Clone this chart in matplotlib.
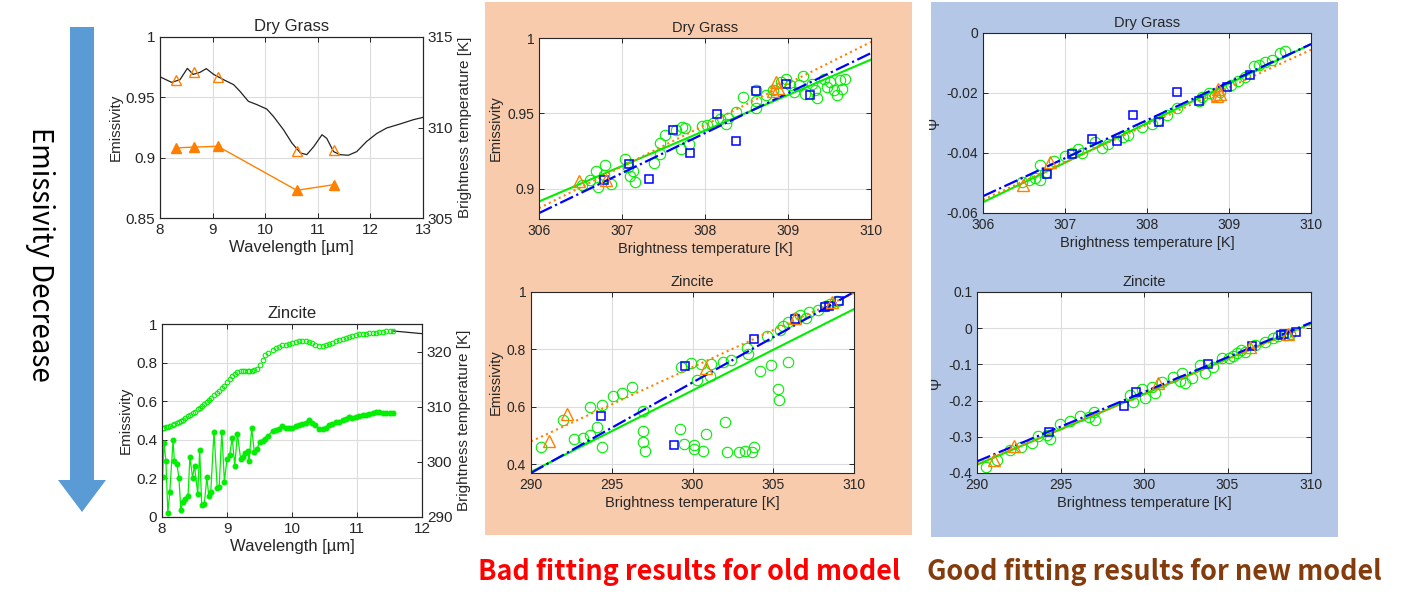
"""Emissivity / brightness-temperature fitting comparison figure."""
import matplotlib
matplotlib.use('Agg')
import matplotlib.pyplot as plt
from matplotlib.patches import Rectangle, Polygon
from matplotlib.ticker import FuncFormatter

plt.rcParams.update({
    'font.family': ['Liberation Sans', 'DejaVu Sans'],
    'axes.unicode_minus': False,
})

# ---------------------------------------------------------------------------
# data
# ---------------------------------------------------------------------------
# Dry grass spectrum (left top)
grass_wl = [8.0, 8.22, 8.38, 8.52, 8.63, 8.76, 8.88, 9.02, 9.21, 9.40, 9.52, 9.68,
            9.84, 10.03, 10.16, 10.35, 10.51, 10.67, 10.79, 10.92, 11.08, 11.17,
            11.30, 11.42, 11.58, 11.74, 11.93, 12.12, 12.31, 12.57, 12.82, 13.0]
grass_emis = [0.967, 0.9624, 0.9646, 0.974, 0.969, 0.9707, 0.9738, 0.969, 0.9646,
              0.9605, 0.955, 0.9467, 0.944, 0.9403, 0.934, 0.923, 0.912, 0.9039,
              0.9025, 0.909, 0.919, 0.916, 0.905, 0.9025, 0.902, 0.905, 0.9135,
              0.920, 0.9246, 0.928, 0.9315, 0.9334]
band_wl = [8.30, 8.65, 9.10, 10.60, 11.30]
band_emis = [0.9646, 0.9707, 0.9669, 0.9058, 0.9066]
band_bt = [308.87, 308.92, 308.96, 306.53, 306.84]

# Zincite spectrum (left bottom)
zinc_wl = [8.01, 8.03, 8.06, 8.09, 8.12, 8.17, 8.19, 8.23, 8.26, 8.29,
           8.32, 8.36, 8.40, 8.43, 8.47, 8.50, 8.55, 8.58, 8.61, 8.65,
           8.69, 8.72, 8.75, 8.80, 8.85, 8.88, 8.92, 8.96, 9.00, 9.04,
           9.08, 9.12, 9.16, 9.21, 9.25, 9.28, 9.32, 9.34, 9.38, 9.42,
           9.46, 9.50, 9.55, 9.59, 9.63, 9.70, 9.75, 9.80, 9.85, 9.90,
           9.95, 10.00, 10.06, 10.11, 10.16, 10.21, 10.26, 10.31, 10.36, 10.42,
           10.47, 10.52, 10.57, 10.62, 10.67, 10.72, 10.78, 10.83, 10.88, 10.93,
           10.98, 11.03, 11.09, 11.14, 11.19, 11.24, 11.29, 11.34, 11.40, 11.45,
           11.50, 11.55]
zinc_emis = [0.460, 0.462, 0.465, 0.468, 0.471, 0.477, 0.481, 0.486, 0.492, 0.497,
             0.503, 0.511, 0.521, 0.528, 0.538, 0.546, 0.559, 0.567, 0.577, 0.586,
             0.597, 0.605, 0.616, 0.632, 0.645, 0.655, 0.667, 0.679, 0.699, 0.715,
             0.728, 0.741, 0.750, 0.754, 0.755, 0.756, 0.757, 0.757, 0.758, 0.760,
             0.768, 0.790, 0.815, 0.839, 0.849, 0.864, 0.874, 0.882, 0.890, 0.893,
             0.895, 0.899, 0.905, 0.912, 0.913, 0.912, 0.906, 0.899, 0.892, 0.887,
             0.886, 0.891, 0.897, 0.904, 0.911, 0.918, 0.924, 0.930, 0.935, 0.940,
             0.943, 0.947, 0.949, 0.950, 0.951, 0.953, 0.955, 0.958, 0.961, 0.962,
             0.963, 0.964]
zinc_bt = [297.2, 303.4, 300.2, 290.8, 294.5, 303.9, 300.2, 299.6, 297.1, 291.3,
           292.7, 293.2, 293.8, 300.9, 297.1, 299.3, 294.2, 302.2, 292.2, 292.3,
           297.2, 293.8, 294.5, 305.5, 295.2, 295.5, 305.5, 296.4, 300.5, 301.2,
           304.3, 299.3, 305.1, 300.5, 300.9, 301.6, 302.0, 300.1, 306.1, 301.8,
           302.3, 303.6, 303.7, 304.1, 304.7, 305.6, 305.7, 305.9, 306.5, 306.2,
           306.2, 306.1, 306.5, 306.7, 306.9, 307.0, 307.5, 307.1, 306.7, 305.9,
           305.9, 306.2, 306.6, 306.9, 307.2, 307.3, 307.5, 307.7, 308.2, 308.0,
           308.2, 308.3, 308.5, 308.5, 308.6, 308.9, 309.1, 309.0, 308.9, 308.9,
           308.8, 308.9]
zinc_tail_wl = [11.55, 12.0]
zinc_tail_emis = [0.964, 0.950]

# Old model, dry grass (emissivity vs BT)
mg_circ_t = [306.52, 306.61, 306.69, 306.71, 306.79, 306.78, 306.87, 307.04, 307.07, 307.10,
             307.16, 307.13, 307.38, 307.46, 307.52, 307.46, 307.65, 307.72, 307.76, 307.71,
             307.81, 307.96, 308.02, 308.10, 308.18, 308.25, 308.28, 308.37, 308.46, 308.62,
             308.62, 308.62, 308.74, 308.82, 308.92, 308.98, 309.02, 309.07, 309.13, 309.18,
             309.21, 309.29, 309.33, 309.35, 309.43, 309.47, 309.51, 309.55, 309.59, 309.63,
             309.65, 309.69]
mg_circ_e = [0.9024, 0.906, 0.912, 0.9015, 0.9156, 0.909, 0.903, 0.920, 0.9148, 0.9082,
             0.9044, 0.912, 0.9174, 0.9306, 0.9357, 0.9231, 0.939, 0.9407, 0.9403, 0.9262,
             0.9297, 0.9416, 0.9423, 0.9438, 0.946, 0.9427, 0.9467, 0.9511, 0.961, 0.9654,
             0.9584, 0.9533, 0.9621, 0.9654, 0.9709, 0.9731, 0.9687, 0.9643, 0.9687, 0.9747,
             0.9632, 0.9698, 0.9654, 0.9599, 0.9731, 0.9676, 0.9709, 0.9654, 0.9621, 0.972,
             0.9665, 0.9725]
mg_sq_t = [306.78, 307.08, 307.33, 307.62, 307.82, 308.14, 308.37, 308.62, 308.98, 309.26]
mg_sq_e = [0.906, 0.9165, 0.9066, 0.939, 0.924, 0.9496, 0.932, 0.965, 0.9698, 0.9621]
mg_tri_t = [306.48, 306.81, 308.82, 308.86, 308.88]
mg_tri_e = [0.905, 0.906, 0.965, 0.971, 0.967]
mg_fit_t = [306, 310]
mg_fit_green = [0.8916, 0.9857]
mg_fit_orange = [0.8872, 0.9974]
mg_fit_blue = [0.8839, 0.990]

# Old model, zincite
mz_circ_t = [290.60, 292.00, 292.68, 293.24, 293.65, 293.65, 294.11, 294.38, 294.38, 295.10,
             295.61, 296.23, 296.91, 296.91, 296.96, 297.06, 299.23, 299.29, 299.47, 299.89,
             300.09, 300.09, 300.30, 300.51, 300.63, 300.81, 301.08, 301.15, 301.87, 302.01,
             302.12, 302.36, 302.90, 303.25, 303.35, 303.46, 303.66, 303.81, 304.18, 304.63,
             304.84, 305.27, 305.36, 305.42, 305.62, 305.93, 305.93, 306.35, 306.66, 307.03,
             307.23, 307.79, 308.20, 308.51, 308.93]
mz_circ_e = [0.460, 0.556, 0.489, 0.492, 0.598, 0.501, 0.530, 0.608, 0.460, 0.637,
             0.647, 0.670, 0.586, 0.516, 0.478, 0.446, 0.524, 0.740, 0.472, 0.752,
             0.468, 0.454, 0.693, 0.748, 0.448, 0.507, 0.707, 0.750, 0.757, 0.548,
             0.443, 0.763, 0.443, 0.448, 0.806, 0.783, 0.443, 0.460, 0.725, 0.847,
             0.746, 0.661, 0.623, 0.868, 0.880, 0.757, 0.897, 0.911, 0.921, 0.911,
             0.929, 0.938, 0.950, 0.958, 0.970]
mz_sq_t = [294.35, 298.85, 299.55, 303.82, 306.35, 308.20, 308.45, 309.08]
mz_sq_e = [0.569, 0.466, 0.743, 0.837, 0.906, 0.948, 0.952, 0.967]
mz_tri_t = [291.10, 292.25, 300.81, 306.35, 308.62]
mz_tri_e = [0.483, 0.574, 0.737, 0.911, 0.965]
mz_fit_t = [290, 310]
mz_fit_green = [0.374, 0.9405]
mz_fit_orange = [0.480, 0.9965]
mz_fit_blue = [0.370, 1.0]

# New model, dry grass (psi vs BT)
rg_circ_t = [306.48, 306.56, 306.64, 306.70, 306.70, 306.76, 306.86, 307.00, 307.08, 307.16,
             307.21, 307.37, 307.45, 307.53, 307.71, 307.77, 307.94, 308.06, 308.14, 308.24,
             308.36, 308.63, 308.67, 308.75, 308.83, 308.89, 309.03, 309.11, 309.20, 309.30,
             309.36, 309.44, 309.52, 309.62, 309.68]
rg_circ_p = [-0.0498, -0.0489, -0.0483, -0.0441, -0.0489, -0.0467, -0.0428, -0.0409, -0.0400,
             -0.0387, -0.0400, -0.0363, -0.0383, -0.0369, -0.0347, -0.0339, -0.0313, -0.0302,
             -0.0289, -0.0272, -0.0250, -0.0226, -0.0213, -0.0200, -0.0211, -0.0198, -0.0172,
             -0.0161, -0.0147, -0.0111, -0.0106, -0.0098, -0.0089, -0.0067, -0.0059]
rg_sq_t = [306.78, 307.08, 307.33, 307.63, 307.83, 308.15, 308.37, 308.64, 308.98, 309.26]
rg_sq_p = [-0.0469, -0.0403, -0.0352, -0.0361, -0.0274, -0.0297, -0.0198, -0.0228, -0.0180, -0.0139]
rg_tri_t = [306.49, 306.82, 308.85, 308.87, 308.89]
rg_tri_p = [-0.0506, -0.0431, -0.0211, -0.0187, -0.0202]
rg_fit_t = [306, 310]
rg_fit_green = [-0.0564, -0.0037]
rg_fit_orange = [-0.0556, -0.0056]
rg_fit_blue = [-0.0544, -0.0037]

# New model, zincite
rz_circ_t = [290.56, 291.20, 292.00, 292.65, 293.29, 293.65, 294.19, 294.39, 294.99, 295.58,
             296.18, 296.68, 296.98, 297.04, 299.17, 299.37, 299.87, 300.07, 300.47, 300.67,
             301.07, 301.76, 302.16, 302.26, 302.46, 302.86, 303.36, 303.66, 304.16, 304.66,
             305.06, 305.35, 305.55, 305.81, 306.05, 306.65, 307.25, 307.75, 308.05, 308.45,
             308.74]
rz_circ_p = [-0.3835, -0.3633, -0.3358, -0.3294, -0.3174, -0.2990, -0.2945, -0.3055, -0.2651,
             -0.2550, -0.2413, -0.2440, -0.2303, -0.2532, -0.1844, -0.2028, -0.1679, -0.1917,
             -0.1615, -0.1798, -0.1477, -0.1340, -0.1459, -0.1248, -0.1523, -0.1385, -0.1018,
             -0.1248, -0.1064, -0.0835, -0.0817, -0.0761, -0.0697, -0.0606, -0.0651, -0.0468,
             -0.0376, -0.0266, -0.0220, -0.0193, -0.0147]
rz_sq_t = [294.33, 298.83, 299.51, 303.82, 306.45, 308.20, 308.40, 309.08]
rz_sq_p = [-0.288, -0.2138, -0.177, -0.099, -0.0495, -0.0193, -0.0174, -0.010]
rz_tri_t = [291.04, 292.21, 300.81, 306.35, 308.60]
rz_tri_p = [-0.3633, -0.3266, -0.152, -0.0514, -0.0165]
rz_fit_t = [290, 310]
rz_fit_green = [-0.377, 0.0128]
rz_fit_orange = [-0.375, 0.010]
rz_fit_blue = [-0.368, 0.0156]

# ---------------------------------------------------------------------------
GREEN = '#00EE00'
ORANGE = '#FF8000'
BLUE = '#0000FF'
INK = '#262626'
W, H = 1402, 606

# narrow-ish sans for the big captions (latin glyphs of the CJK family)
CAPFONT = ['Noto Sans CJK SC', 'Noto Sans CJK JP', 'Liberation Sans']
fmt = FuncFormatter(lambda v, p: f'{v:g}')


def box(l, t, r, b):
    return [l / W, 1 - b / H, (r - l) / W, (b - t) / H]


def style(ax, fs, right=True):
    ax.tick_params(direction='in', top=True, right=right, labelsize=fs,
                   colors=INK, length=3.5, width=0.7)
    ax.grid(True, color='#DCDCDC', lw=0.8)
    ax.set_axisbelow(True)
    for s in ax.spines.values():
        s.set_color(INK)
        s.set_linewidth(0.8)
    ax.xaxis.set_major_formatter(fmt)
    ax.yaxis.set_major_formatter(fmt)


fig = plt.figure(figsize=(W / 100, H / 100), dpi=100)

# background layer: coloured boxes, arrow, captions
ov = fig.add_axes([0, 0, 1, 1])
ov.set_xlim(0, W)
ov.set_ylim(H, 0)
ov.axis('off')
ov.add_patch(Rectangle((485, 2), 427, 533, fc='#F8CBAD', ec='none'))
ov.add_patch(Rectangle((931, 2), 407, 535, fc='#B4C7E7', ec='none'))
ov.add_patch(Polygon([(70, 27), (94, 27), (94, 480), (106, 480), (82, 512),
                      (58, 480), (70, 480)], closed=True, fc='#5B9BD5', ec='none'))
t_arrow = ov.text(40, 254, 'Emissivity Decrease', rotation=-90, ha='center', va='center',
                  fontsize=24, family=CAPFONT, color='black')
t_bad = ov.text(689, 572, 'Bad fitting results for old model', ha='center', va='center',
                fontsize=18, family=CAPFONT, weight='bold', color='#FF0000')
t_good = ov.text(1154, 572, 'Good fitting results for new model', ha='center', va='center',
                 fontsize=18, family=CAPFONT, weight='bold', color='#843C0C')

# ---------------------------------------------------------------------------
# left top: dry grass spectrum
# ---------------------------------------------------------------------------
ax = fig.add_axes(box(160, 37, 423, 218))
style(ax, 11, right=False)
ax.plot(grass_wl, grass_emis, color='#222222', lw=0.9)
ax.plot(band_wl, band_emis, ls='none', marker='^', ms=7, mfc='none', mec=ORANGE, mew=1)
ax.set_xlim(8, 13)
ax.set_ylim(0.85, 1.0)
ax.set_yticks([0.85, 0.9, 0.95, 1.0])
ax.set_xlabel('Wavelength [µm]', fontsize=12, color=INK, labelpad=2)
ax.set_ylabel('Emissivity', fontsize=11, color=INK, labelpad=2)
ax.set_title('Dry Grass', fontsize=12, color=INK, pad=4)
ax2 = ax.twinx()
ax2.plot(band_wl, band_bt, color=ORANGE, lw=1, marker='^', ms=7, mfc=ORANGE, mec=ORANGE)
ax2.set_ylim(305, 315)
ax2.set_yticks([305, 310, 315])
ax2.tick_params(direction='in', labelsize=11, colors=INK, length=3.5, width=0.7)
ax2.yaxis.set_major_formatter(fmt)
ax2.set_ylabel('Brightness temperature [K]', fontsize=11, color=INK, labelpad=3)
for s in ax2.spines.values():
    s.set_color(INK)
    s.set_linewidth(0.8)

# ---------------------------------------------------------------------------
# left bottom: zincite spectrum
# ---------------------------------------------------------------------------
ax = fig.add_axes(box(162, 324, 422, 517))
style(ax, 11, right=False)
ax.plot(zinc_tail_wl, zinc_tail_emis, color='#222222', lw=0.9)
ax.plot(zinc_wl, zinc_emis, ls='none', marker='o', ms=3.3, mfc='none', mec=GREEN, mew=0.8)
ax.set_xlim(8, 12)
ax.set_ylim(0, 1)
ax.set_yticks([0, 0.2, 0.4, 0.6, 0.8, 1.0])
ax.set_xlabel('Wavelength [µm]', fontsize=12, color=INK, labelpad=2)
ax.set_ylabel('Emissivity', fontsize=11, color=INK, labelpad=2)
ax.set_title('Zincite', fontsize=12, color=INK, pad=4)
ax2 = ax.twinx()
ax2.plot(zinc_wl, zinc_bt, color=GREEN, lw=0.9, marker='o', ms=3.3, mfc=GREEN, mec=GREEN)
ax2.set_ylim(290, 325)
ax2.set_yticks([290, 300, 310, 320])
ax2.tick_params(direction='in', labelsize=11, colors=INK, length=3.5, width=0.7)
ax2.yaxis.set_major_formatter(fmt)
ax2.set_ylabel('Brightness temperature [K]', fontsize=11, color=INK, labelpad=3)
for s in ax2.spines.values():
    s.set_color(INK)
    s.set_linewidth(0.8)


# ---------------------------------------------------------------------------
# fitting panels
# ---------------------------------------------------------------------------
def fit_panel(rect, title, ylabel, ct, cy, st, sy, tt, ty, ft, fg, fo, fb,
              xlim, ylim, yticks, xticks):
    a = fig.add_axes(box(*rect))
    a.set_facecolor('white')
    style(a, 10)
    a.plot(ct, cy, ls='none', marker='o', ms=7.5, mfc='none', mec=GREEN, mew=0.8)
    a.plot(ft, fg, color=GREEN, lw=1.5, ls='-')
    a.plot(ft, fo, color=ORANGE, lw=1.5, ls=':')
    a.plot(ft, fb, color=BLUE, lw=1.6, ls='-.')
    a.plot(st, sy, ls='none', marker='s', ms=6, mfc='none', mec=BLUE, mew=1.1)
    a.plot(tt, ty, ls='none', marker='^', ms=8, mfc='none', mec=ORANGE, mew=1)
    a.set_xlim(*xlim)
    a.set_ylim(*ylim)
    a.set_xticks(xticks)
    a.set_yticks(yticks)
    a.set_xlabel('Brightness temperature [K]', fontsize=10.5, color=INK, labelpad=3)
    a.set_ylabel(ylabel, fontsize=10.5, color=INK, labelpad=3)
    a.set_title(title, fontsize=10.5, color=INK, pad=4)
    return a


fit_panel((539, 38, 871, 219), 'Dry Grass', 'Emissivity',
          mg_circ_t, mg_circ_e, mg_sq_t, mg_sq_e, mg_tri_t, mg_tri_e,
          mg_fit_t, mg_fit_green, mg_fit_orange, mg_fit_blue,
          (306, 310), (0.88, 1.0), [0.9, 0.95, 1.0], [306, 307, 308, 309, 310])
fit_panel((531, 292, 854, 473), 'Zincite', 'Emissivity',
          mz_circ_t, mz_circ_e, mz_sq_t, mz_sq_e, mz_tri_t, mz_tri_e,
          mz_fit_t, mz_fit_green, mz_fit_orange, mz_fit_blue,
          (290, 310), (0.37, 1.0), [0.4, 0.6, 0.8, 1.0], [290, 295, 300, 305, 310])
fit_panel((983, 33, 1311, 213), 'Dry Grass', 'Ψ',
          rg_circ_t, rg_circ_p, rg_sq_t, rg_sq_p, rg_tri_t, rg_tri_p,
          rg_fit_t, rg_fit_green, rg_fit_orange, rg_fit_blue,
          (306, 310), (-0.06, 0.0), [-0.06, -0.04, -0.02, 0.0], [306, 307, 308, 309, 310])
fit_panel((977, 292, 1311, 473), 'Zincite', 'Ψ',
          rz_circ_t, rz_circ_p, rz_sq_t, rz_sq_p, rz_tri_t, rz_tri_p,
          rz_fit_t, rz_fit_green, rz_fit_orange, rz_fit_blue,
          (290, 310), (-0.4, 0.1), [-0.4, -0.3, -0.2, -0.1, 0.0, 0.1], [290, 295, 300, 305, 310])

# scale the big captions to the lengths they have in the original
fig.canvas.draw()
for txt, target, vertical in [(t_arrow, 255, True), (t_bad, 423, False), (t_good, 456, False)]:
    bb = txt.get_window_extent()
    size = bb.height if vertical else bb.width
    txt.set_fontsize(txt.get_fontsize() * target / size)

fig.savefig('out.png', dpi=100)
plt.close(fig)
print('wrote out.png')
